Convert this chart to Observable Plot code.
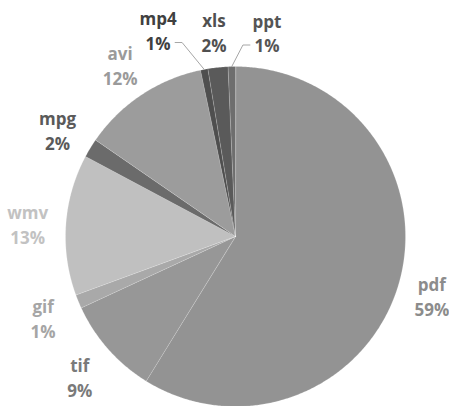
<!DOCTYPE html>
<html><head><meta charset="utf-8">
<script src="https://cdn.jsdelivr.net/npm/d3@7"></script>
<script src="https://cdn.jsdelivr.net/npm/@observablehq/plot@0.6"></script>
<style>
body{margin:0;background:#fff;}
#chart svg g[aria-label="pie shadow"]{filter:drop-shadow(0 0 4px rgba(0,0,0,0.4));}
</style></head><body><div id="chart"></div>
<script>
const names = ["pdf","tif","gif","wmv","mpg","avi","mp4","xls","ppt"];
const shares = [58.8, 9.3, 1.3, 13.4, 1.8, 12.1, 0.7, 1.9, 0.7];
const percentLabels = ["59%","9%","1%","13%","2%","12%","1%","2%","1%"];
const sliceColors = ["#939393","#979797","#a9a9a9","#c0c0c0","#6b6b6b","#9c9c9c","#4f4f4f","#5a5a5a","#6e6e6e"];
const labelColors = ["#8c8c8c","#7a7a7a","#a5a5a5","#c2c2c2","#5a5a5a","#9a9a9a","#404040","#505050","#555555"];

const W = 449, H = 406, cx = 235, cy = 236, R = 170;
const arcs = d3.pie().sort(null).value(d => d)(shares);

function slicePoints(a) {
  const pts = [{x: 0, y: 0}];
  const n = Math.max(2, Math.ceil((a.endAngle - a.startAngle) / (Math.PI / 360)));
  for (let k = 0; k <= n; k++) {
    const t = a.startAngle + (a.endAngle - a.startAngle) * k / n;
    pts.push({x: Math.sin(t), y: Math.cos(t)});
  }
  return pts;
}
const fullCircle = d3.range(0, 721).map(k => ({x: Math.sin(k * Math.PI / 360), y: Math.cos(k * Math.PI / 360)}));

const labelR = 1.225;
const nudge = {mp4: [-39, -4], ppt: [36, 2], pdf: [-4, 0]}; // pixel nudges
const leaderFor = ["mp4", "ppt"];
const labels = arcs.map((a, i) => {
  const m = (a.startAngle + a.endAngle) / 2;
  const nd = nudge[names[i]] || [0, 0];
  return {
    name: names[i], mid: m, nd,
    x: labelR * Math.sin(m) + nd[0] / R,
    y: labelR * Math.cos(m) - nd[1] / R - 0.01,
    text: names[i] + "\n" + percentLabels[i],
    color: labelColors[i]
  };
});

const leaders = [];
labels.filter(l => leaderFor.includes(l.name)).forEach(l => {
  const side = l.nd[0] < 0 ? 1 : -1;
  const ly = l.y - 13 / R;
  leaders.push({name: l.name, x: l.x + side * 17 / R, y: ly});
  leaders.push({name: l.name, x: l.x + side * 24 / R, y: ly});
  leaders.push({name: l.name, x: Math.sin(l.mid), y: Math.cos(l.mid)});
});

const chart = Plot.plot({
  width: W, height: H,
  margin: 0,
  style: {background: "#fff"},
  x: {domain: [-cx / R, (W - cx) / R], axis: null},
  y: {domain: [(cy - H) / R, cy / R], axis: null},
  marks: [
    Plot.line(fullCircle, {x: "x", y: "y", fill: "#999", stroke: "none", curve: "linear-closed", ariaLabel: "pie shadow"}),
    ...arcs.map((a, i) => Plot.line(slicePoints(a), {x: "x", y: "y", fill: sliceColors[i], stroke: "#ffffff", strokeWidth: 0.6, strokeOpacity: 0.3, curve: "linear-closed"})),
    Plot.line(leaders, {x: "x", y: "y", z: "name", stroke: "#a6a6a6", strokeWidth: 1}),
    ...labels.map(l => Plot.text([l], {x: "x", y: "y", text: "text", fill: l.color, fontSize: 17, fontWeight: "bold", fontFamily: "'Open Sans', sans-serif", lineHeight: 1.47, lineAnchor: "middle"}))
  ]
});
document.getElementById("chart").appendChild(chart);
</script></body></html>
